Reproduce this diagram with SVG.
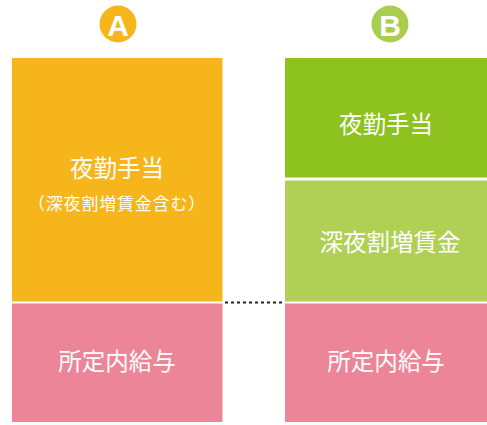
<svg xmlns="http://www.w3.org/2000/svg" width="487" height="425" viewBox="0 0 487 425">
<style>
.t{font-family:"Noto Sans CJK JP","Noto Sans CJK SC",sans-serif;fill:#fff;text-anchor:middle;dominant-baseline:central}
.big{font-size:23.5px}
.small{font-size:17px;letter-spacing:0.8px}
.lbl{font-family:"Liberation Sans","DejaVu Sans",sans-serif;font-weight:bold;font-size:30px;fill:#fff;text-anchor:middle;dominant-baseline:central}
</style>
<rect width="487" height="425" fill="#fff"/>
<g id="labelA"><circle cx="118" cy="24" r="18.5" fill="#F6B51B"/><text class="lbl" x="118" y="25">A</text></g>
<g id="labelB"><circle cx="390" cy="24" r="18.5" fill="#A9CE4F"/><text class="lbl" x="390" y="25">B</text></g>
<g id="a-night"><rect x="12" y="58" width="210.5" height="243.5" fill="#F6B51B"/><text class="t big" x="117" y="167">夜勤手当</text><text class="t small" x="117" y="202">（深夜割増賃金含む）</text></g>
<g id="a-base"><rect x="12" y="303.5" width="210.5" height="118.5" fill="#EC8597"/><text class="t big" x="117" y="360">所定内給与</text></g>
<g id="b-night"><rect x="285" y="58" width="202" height="119.5" fill="#8DC21F"/><text class="t big" x="386" y="123">夜勤手当</text></g>
<g id="b-late"><rect x="285" y="180.5" width="202" height="121" fill="#AFCF55"/><text class="t big" x="390" y="241">深夜割増賃金</text></g>
<g id="b-base"><rect x="285" y="303.5" width="202" height="118.5" fill="#EC8597"/><text class="t big" x="386" y="360">所定内給与</text></g>
<g id="connectors"><line x1="225" y1="302.5" x2="283" y2="302.5" stroke="#222" stroke-width="2" stroke-dasharray="3 3"/></g>
</svg>
